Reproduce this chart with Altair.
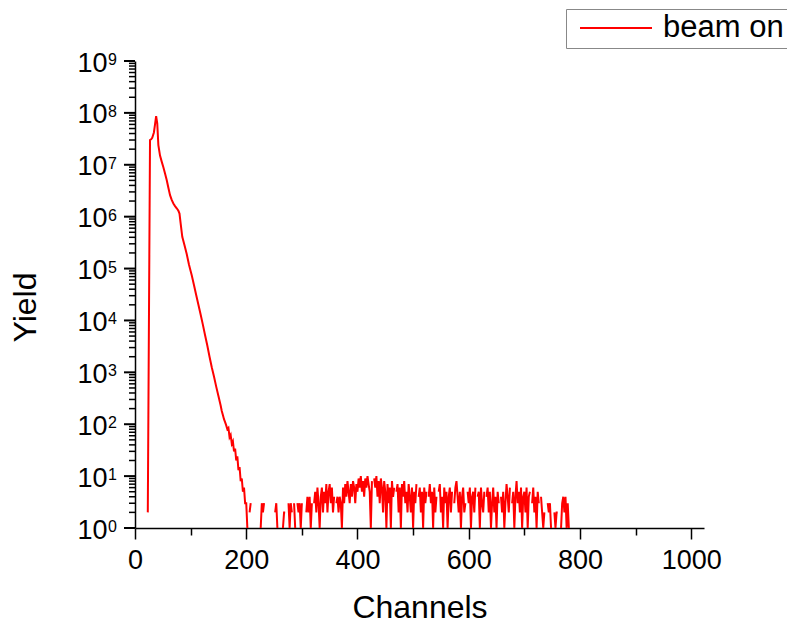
import altair as alt
import pandas as pd

# ---- data ----
main_channels = [23, 27, 29, 31, 34, 36, 38, 40, 42, 45,
                 48, 51, 54, 57, 60, 63, 66, 69, 72, 75,
                 78, 80, 82, 85, 89, 93, 97, 100, 102, 106,
                 110, 114, 118, 122, 126, 130, 134, 138, 142, 146,
                 150, 154, 156, 158, 160, 162, 164, 166, 168, 170,
                 172, 174, 176, 178, 180, 182, 184, 186, 188, 190,
                 192, 194, 196, 198]
main_yield = [2, 3.0e7, 3.1e7, 3.3e7, 4.2e7, 6.0e7, 8.7e7, 6.3e7, 2.4e7, 1.5e7,
              1.15e7, 9.0e6, 6.8e6, 5.1e6, 3.6e6, 2.6e6, 2.1e6, 1.8e6, 1.6e6, 1.45e6,
              1.3e6, 1.15e6, 7.5e5, 4.1e5, 2.8e5, 1.9e5, 1.2e5, 9.0e4, 7.4e4, 4.8e4,
              3.1e4, 2.0e4, 1.3e4, 8.3e3, 5.2e3, 3.3e3, 2.0e3, 1.25e3, 830, 530,
              350, 230, 180, 150, 125, 110, 95, 80, 85, 56,
              62, 42, 47, 30, 34, 20, 24, 13, 15, 8,
              9, 5, 6, 3]

noise_start = 200
noise_step = 2
noise_yield = [
    3, 1, 0, 2, 3, 0, 0, 0, 0, 0, 0, 0, 0, 1, 3, 2, 3, 0, 0, 0, 0, 0, 0, 0, 0, 0,
    2, 3, 1, 0, 0, 0, 0, 1, 2, 2, 0, 0, 3, 1, 3, 2, 0, 3, 1, 0, 3, 2, 3, 1, 3, 0,
    0, 0, 2, 4, 2, 4, 1, 3, 0, 3, 5, 2, 6, 3, 1, 4, 6, 2, 5, 3,
    7, 2, 5, 7, 3, 6, 2, 4,
    0, 3, 4, 2, 4, 3,
    1, 6, 3, 7, 4, 8, 5, 3, 7, 4, 8, 6, 3, 7,
    5, 9, 6, 10, 5, 8, 4, 9, 6, 10, 7, 5,
    1, 8, 0, 9, 6, 10, 4, 8, 3, 9, 6, 2, 8, 5, 1,
    7, 3, 6, 1, 8, 4, 6, 0, 5, 7, 2, 6, 1, 7, 4, 8, 3, 5, 2, 7, 4,
    2, 6, 1, 5, 3, 7, 0, 4, 6, 2, 5, 1, 6, 3, 5, 0, 4, 7,
    3, 5, 1, 6, 2, 4, 0, 5, 7, 2, 4, 1, 6, 3, 5,
    1, 4, 6, 2, 5, 0, 3, 6, 8, 4, 2, 5, 1, 4, 6, 2, 3, 0, 5,
    3, 6, 1, 4, 5, 2, 6, 0, 4, 5, 1, 6, 3, 2, 5, 0, 4, 6, 2, 5, 1, 3, 6, 2, 4,
    1, 5, 3, 0, 4, 2, 5, 1, 3, 7, 4, 2, 6, 0, 3, 5, 1, 4, 8, 3, 5, 2, 6, 1, 4,
    5, 2, 6, 1, 4, 5, 0, 3, 6, 2, 4, 1, 5, 3, 0, 4,
    2, 1, 2, 0, 0, 3, 2, 3, 1, 0, 0, 2, 1, 2, 2, 0, 0, 1, 3, 4, 2, 4, 1, 3, 1,
]

series_name = "beam on"
x_tick_values = list(range(0, 1001, 100))
y_exponents = list(range(0, 10))
y_mantissas = list(range(2, 10))

# ---- build tables ----
channels = main_channels + [noise_start + noise_step * i for i in range(len(noise_yield))]
yields = [v if v > 0 else None for v in main_yield + noise_yield]
df = pd.DataFrame({"Channels": channels, "Yield": yields, "series": series_name})

decades = [10.0 ** e for e in y_exponents]
minor_vals = [m * 10.0 ** k for k in y_exponents[:-1] for m in y_mantissas]
exp_df = pd.DataFrame({"e": y_exponents, "Yield": decades})
major_df = pd.DataFrame({"Yield": decades})
minor_df = pd.DataFrame({"Yield": minor_vals})

FONT = "Liberation Sans"
is_major_x = "datum.value % 200 === 0"

x_enc = alt.X(
    "Channels:Q",
    scale=alt.Scale(domain=[0, 1023], nice=False, zero=False),
    axis=alt.Axis(
        values=x_tick_values, format="d",
        labelExpr=f"{is_major_x} ? datum.label : ''",
        tickSize={"condition": {"test": is_major_x, "value": 11}, "value": 7},
        title="Channels", labelFlush=False, labelOverlap=False, labelPadding=8,
        titleBaseline="alphabetic", titleY=89, grid=False,
    ),
)

y_scale = alt.Scale(type="log", domain=[1, 1e9], nice=False)
y_axis = alt.Axis(
    values=decades, ticks=False,
    labelExpr="'10'",
    title="Yield", labelFlush=False, labelOverlap=False, labelPadding=28,
    labelAlign="right", labelBaseline="middle", labelOffset=2,
    titleAngle=270, titleBaseline="alphabetic", titleAlign="center",
    titleX=-100, titleY=246, grid=False,
)

line = alt.Chart(df).mark_line(strokeWidth=2).encode(
    x=x_enc,
    y=alt.Y("Yield:Q", scale=y_scale, axis=y_axis),
    color=alt.Color(
        "series:N",
        scale=alt.Scale(domain=[series_name], range=["#ff0000"]),
        legend=alt.Legend(
            title=None, orient="none", legendX=431, legendY=-52,
            labelFontSize=31, labelFont=FONT, labelColor="black",
            symbolType="stroke", symbolSize=5184, symbolStrokeWidth=2,
            strokeColor="#888888", fillColor="white", padding=5,
            symbolOffset=8, labelOffset=10, labelLimit=0, clipHeight=28,
            cornerRadius=0,
        ),
    ),
)

exps = alt.Chart(exp_df).mark_text(
    align="left", baseline="top", dy=-9, fontSize=16, font=FONT, color="black"
).encode(
    x=alt.value(-27),
    y=alt.Y("Yield:Q", scale=y_scale, axis=y_axis),
    text=alt.Text("e:Q", format="d"),
)

major_ticks = alt.Chart(major_df).mark_rule(color="black", strokeWidth=2).encode(
    x=alt.value(0), x2=alt.value(-11),
    y=alt.Y("Yield:Q", scale=y_scale, axis=y_axis),
)
minor_ticks = alt.Chart(minor_df).mark_rule(color="black", strokeWidth=1.5).encode(
    x=alt.value(0), x2=alt.value(-6),
    y=alt.Y("Yield:Q", scale=y_scale, axis=y_axis),
)

chart = alt.layer(line, exps, major_ticks, minor_ticks).properties(
    width=569, height=467,
    autosize=alt.AutoSizeParams(type="none"),
    padding={"left": 135, "top": 61, "right": 83, "bottom": 95},
    background="white",
).configure_view(stroke=None).configure_axis(
    domainColor="black", domainWidth=1.5, tickColor="black", tickWidth=1.5,
    labelFont=FONT, labelFontSize=27, labelColor="black",
    titleFont=FONT, titleFontSize=32, titleColor="black", titleFontWeight="normal",
)

chart.save("out.html", embed_options={"renderer": "svg", "actions": False})
